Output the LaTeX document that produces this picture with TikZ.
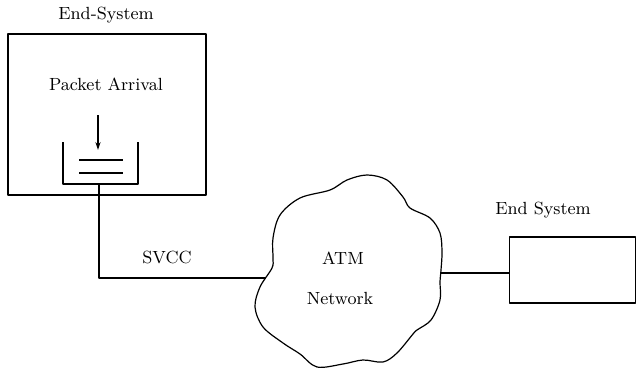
\documentclass[tikz,border=0pt]{standalone}
\usetikzlibrary{arrows.meta}
\begin{document}
\begin{tikzpicture}[x=0.5pt,y=-0.5pt,
  lbl/.style={font=\fontsize{8.8}{10.5}\selectfont, inner sep=0pt},
  ln/.style={line width=0.6pt, line join=round},
  boxst/.style={draw, ln, inner sep=0pt}]
\useasboundingbox (0,0) rectangle (636,369);
% left end-system
\node[lbl] (estitle) at (106,15) {End-System};
\node[boxst, minimum width=99pt, minimum height=80.5pt] (esbox) at (107,114.5) {};
\node[lbl] (pa) at (106,84) {Packet Arrival};
\coordinate (arrtop) at (98,115);
\coordinate (arrbot) at (98,150);
\draw[ln, -{Stealth[length=4pt,width=2.6pt]}] (arrtop) -- (arrbot);
% queue
\coordinate (qtl) at (63,142);
\coordinate (qtr) at (138,142);
\coordinate (qb) at (99,184);
\draw[ln] (qtl) |- (qb) -| (qtr);
\coordinate (q1l) at (79,160); \coordinate (q1r) at (123,160);
\coordinate (q2l) at (79,173); \coordinate (q2r) at (123,173);
\draw[ln] (q1l) -- (q1r);
\draw[ln] (q2l) -- (q2r);
% cloud
\draw[ln] plot[smooth cycle, tension=0.55] coordinates {
 (367,175) (387,180) (403,197) (410,208) (430,218) (440,233) (442,252) (441,270)
 (440,282) (440,300) (431,320) (417,330) (413,334) (397,353) (383,362) (363,360)
 (343,364) (317,367) (300,354) (283,343) (263,327) (255,307) (260,287) (272,268)
 (273,258) (273,238) (280,215) (300,198) (330,190) (347,180)};
\node[lbl] (atm) at (343,258) {ATM};
\node[lbl] (net) at (340,298) {Network};
\coordinate (cl) at (266,278);
\coordinate (cr) at (441,273);
% SVCC link
\draw[ln] (qb) |- (cl);
\node[lbl] (svcc) at (167,257) {SVCC};
% right end system
\node[lbl] (es2title) at (543,210) {End System};
\node[boxst, minimum width=63pt, minimum height=33pt, anchor=west] (es2box) at (509,270) {};
\draw[ln] (cr) -- (cr -| es2box.west);
\end{tikzpicture}
\end{document}
